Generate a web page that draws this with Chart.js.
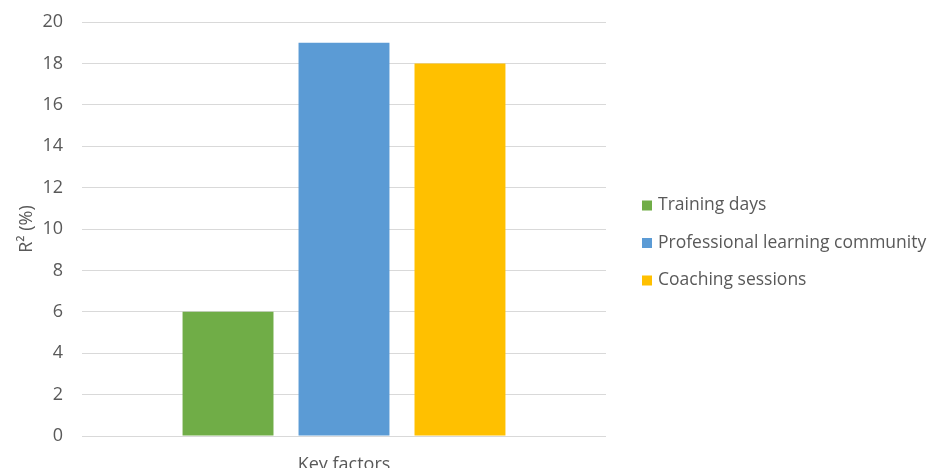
<!DOCTYPE html>
<html>
<head>
<meta charset="utf-8">
<script src="https://cdn.jsdelivr.net/npm/chart.js@4"></script>
<style>
  html, body { margin: 0; padding: 0; background: #fff; overflow: hidden; }
  #wrap { width: 929px; height: 480px; }
</style>
</head>
<body>
<div id="wrap"><canvas id="chart"></canvas></div>
<script>
const categories = ['Key factors'];
const seriesNames = ['Training days', 'Professional learning community', 'Coaching sessions'];
const seriesValues = [[6], [19], [18]];
const seriesColors = ['#70AD47', '#5B9BD5', '#FFC000'];
const yTicks = [0, 2, 4, 6, 8, 10, 12, 14, 16, 18, 20];

const FONT = 'Open Sans';
const TEXT = '#595959';

// legend on the right, drawn by hand so it sits where the reference has it
const sideLegend = {
  id: 'sideLegend',
  afterDraw(chart) {
    const c = chart.ctx;
    const area = chart.chartArea;
    const x = area.right + 36;
    const mid = area.top + 221;
    const step = 37.5;
    const sets = chart.data.datasets;
    c.save();
    c.font = '17.5px "' + FONT + '"';
    c.textBaseline = 'middle';
    c.textAlign = 'left';
    sets.forEach((ds, i) => {
      const y = mid + (i - (sets.length - 1) / 2) * step;
      c.fillStyle = ds.backgroundColor;
      c.fillRect(x, y - 5, 10, 10);
      c.fillStyle = TEXT;
      c.fillText(ds.label, x + 16, y);
    });
    c.restore();
  }
};

const ctx = document.getElementById('chart').getContext('2d');

new Chart(ctx, {
  type: 'bar',
  data: {
    labels: categories,
    datasets: seriesNames.map((name, i) => ({
      label: name,
      data: seriesValues[i],
      backgroundColor: seriesColors[i],
      borderWidth: 0,
      categoryPercentage: 0.664,
      barPercentage: 0.784
    }))
  },
  options: {
    responsive: true,
    maintainAspectRatio: false,
    animation: false,
    layout: { padding: { top: 22, right: 323, left: 0, bottom: 0 } },
    plugins: {
      legend: { display: false },
      tooltip: { enabled: false }
    },
    scales: {
      x: {
        grid: { display: false },
        border: { display: false },
        afterFit: axis => { axis.height = 44; },
        ticks: { color: TEXT, font: { family: FONT, size: 18 }, padding: 10 }
      },
      y: {
        min: 0,
        max: 20,
        afterBuildTicks: axis => { axis.ticks = yTicks.map(v => ({ value: v })); },
        afterFit: axis => { axis.width = 82; },
        grid: { color: '#d9d9d9', lineWidth: 1, tickLength: 19, tickColor: 'rgba(0,0,0,0)' },
        border: { display: false },
        ticks: { color: TEXT, font: { family: FONT, size: 18 }, padding: 0 },
        title: {
          display: true,
          text: 'R² (%)',
          color: TEXT,
          font: { family: FONT, size: 18 },
          padding: { top: 16, bottom: 0 }
        }
      }
    }
  },
  plugins: [sideLegend]
});
</script>
</body>
</html>
